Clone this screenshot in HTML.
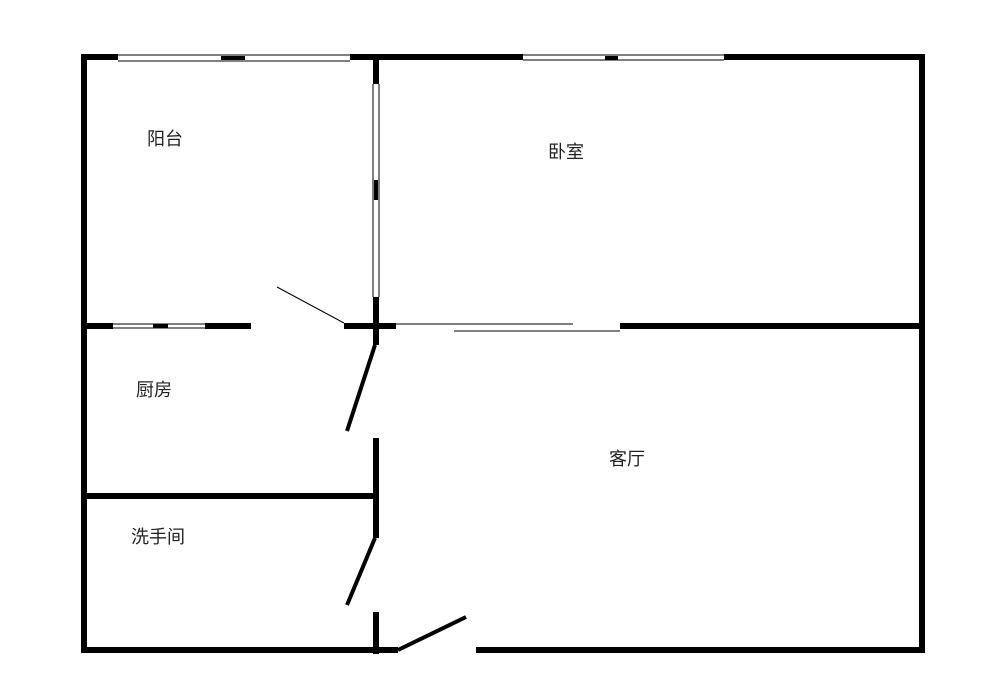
<!DOCTYPE html>
<html><head><meta charset="utf-8"><style>
body{margin:0;background:#fff;}
svg{display:block}
text{font-family:"Liberation Sans","Noto Sans CJK SC",sans-serif;font-size:18px;fill:#222}
</style></head><body>
<svg width="1000" height="673" viewBox="0 0 1000 673" xmlns="http://www.w3.org/2000/svg">
<g stroke="#000" stroke-linecap="butt" fill="none">
<!-- outer walls -->
<line x1="84" y1="55" x2="84" y2="652" stroke-width="6"/>
<line x1="922" y1="55" x2="922" y2="652" stroke-width="6"/>
<line x1="81" y1="57" x2="118" y2="57" stroke-width="6"/>
<line x1="350" y1="57" x2="523" y2="57" stroke-width="6"/>
<line x1="724" y1="57" x2="925" y2="57" stroke-width="6"/>
<line x1="221" y1="58" x2="245" y2="58" stroke-width="4"/>
<line x1="605" y1="58" x2="618" y2="58" stroke-width="4"/>
<!-- bottom -->
<line x1="81" y1="650" x2="398" y2="650" stroke-width="6"/>
<line x1="476" y1="650" x2="925" y2="650" stroke-width="6"/>
<line x1="398" y1="650" x2="466" y2="617" stroke-width="4"/>
<!-- vertical inner wall -->
<line x1="376" y1="57" x2="376" y2="84" stroke-width="6"/>
<line x1="376" y1="297" x2="376" y2="345" stroke-width="6"/>
<line x1="376" y1="180" x2="376" y2="200" stroke-width="4"/>
<line x1="376" y1="438" x2="376" y2="538" stroke-width="6"/>
<line x1="376" y1="612" x2="376" y2="654" stroke-width="6"/>
<line x1="375" y1="345" x2="347" y2="431" stroke-width="4"/>
<line x1="375" y1="538" x2="347" y2="605" stroke-width="4"/>
<!-- middle horizontal -->
<line x1="84" y1="326" x2="113" y2="326" stroke-width="6"/>
<line x1="205" y1="326" x2="251" y2="326" stroke-width="6"/>
<line x1="153" y1="326" x2="168" y2="326" stroke-width="4"/>
<line x1="344" y1="326" x2="396" y2="326" stroke-width="6"/>
<line x1="620" y1="326" x2="922" y2="326" stroke-width="6"/>
<line x1="396" y1="324" x2="573" y2="324" stroke-width="1"/>
<line x1="454" y1="331" x2="620" y2="331" stroke-width="1"/>
<line x1="277" y1="287" x2="344" y2="323" stroke-width="1"/>
<!-- kitchen/bath wall -->
<line x1="84" y1="496" x2="378" y2="496" stroke-width="6"/>
<!-- windows outlines -->
<line x1="118" y1="55" x2="350" y2="55" stroke-width="1"/>
<line x1="118" y1="61" x2="350" y2="61" stroke-width="1"/>
<line x1="523" y1="55" x2="724" y2="55" stroke-width="1"/>
<line x1="523" y1="60" x2="724" y2="60" stroke-width="1"/>
<line x1="373" y1="84" x2="373" y2="297" stroke-width="1"/>
<line x1="379" y1="84" x2="379" y2="297" stroke-width="1"/>
<line x1="113" y1="324" x2="205" y2="324" stroke-width="1"/>
<line x1="113" y1="328" x2="205" y2="328" stroke-width="1"/>
</g>
<text x="147" y="145">阳台</text>
<text x="548" y="158">卧室</text>
<text x="136" y="396">厨房</text>
<text x="609" y="465">客厅</text>
<text x="131" y="543">洗手间</text>
</svg>
</body></html>
